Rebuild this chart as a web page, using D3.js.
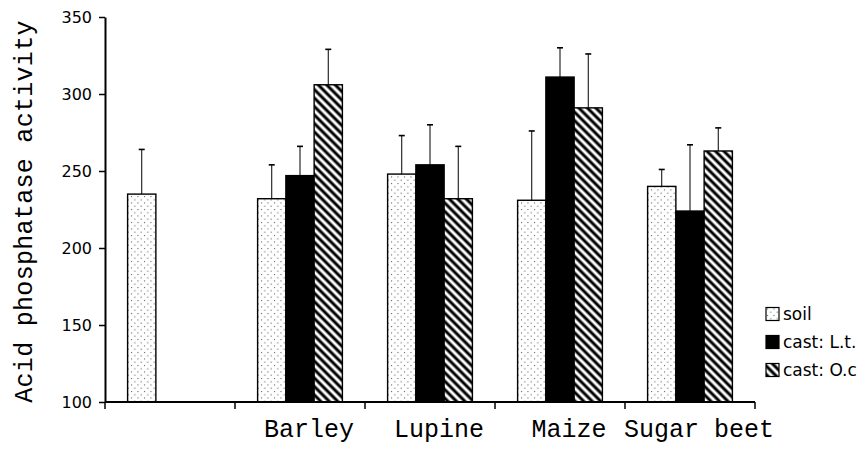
<!DOCTYPE html>
<html>
<head>
<meta charset="utf-8">
<script src="https://cdn.jsdelivr.net/npm/d3@7"></script>
<style>
  html, body { margin: 0; padding: 0; background: #fff; }
  svg { display: block; }
</style>
</head>
<body>
<svg id="chart" width="866" height="451"></svg>
<script>
// ---------------------------------------------------------------------------
// Data
// ---------------------------------------------------------------------------
const categories = ['', 'Barley', 'Lupine', 'Maize', 'Sugar beet'];
const seriesNames = ['soil', 'cast: L.t.', 'cast: O.c'];

const soil      = [235, 232, 248, 231, 240];
const soilSE    = [29, 22, 25, 45, 11];
const castLt    = [null, 247, 254, 311, 224];
const castLtSE  = [null, 19, 26, 19, 43];
const castOc    = [null, 306, 232, 291, 263];
const castOcSE  = [null, 23, 34, 35, 15];

const yTicks = [100, 150, 200, 250, 300, 350];

// ---------------------------------------------------------------------------
// Layout
// ---------------------------------------------------------------------------
const M = { left: 105, right: 755, top: 17, bottom: 402 };
const TYPEWRITER = '"Liberation Mono", "Courier New", monospace';

const svg = d3.select('#chart');
const defs = svg.append('defs');

// dotted fill for soil
const dots = defs.append('pattern')
  .attr('id', 'pat-soil')
  .attr('patternUnits', 'userSpaceOnUse')
  .attr('width', 6.5).attr('height', 6.5);
dots.append('rect').attr('width', 6.5).attr('height', 6.5).attr('fill', '#fff');
dots.append('circle').attr('cx', 1.5).attr('cy', 1.5).attr('r', 0.6).attr('fill', '#333');
dots.append('circle').attr('cx', 4.75).attr('cy', 4.75).attr('r', 0.6).attr('fill', '#333');

// diagonal hatch for O.c
const hatch = defs.append('pattern')
  .attr('id', 'pat-oc')
  .attr('patternUnits', 'userSpaceOnUse')
  .attr('width', 6).attr('height', 6)
  .attr('patternTransform', 'rotate(-45)');
hatch.append('rect').attr('width', 6).attr('height', 6).attr('fill', '#fff');
hatch.append('line')
  .attr('x1', 3).attr('y1', -1).attr('x2', 3).attr('y2', 7)
  .attr('stroke', '#000').attr('stroke-width', 3);

const FILLS = ['url(#pat-soil)', '#000', 'url(#pat-oc)'];

const x = d3.scaleBand()
  .domain(categories.map((c, i) => i))
  .range([M.left, M.right])
  .paddingInner(0).paddingOuter(0);

const xs = d3.scaleBand()
  .domain(d3.range(seriesNames.length))
  .range([0, x.bandwidth()])
  .paddingInner(0).paddingOuter(0.8);

const y = d3.scaleLinear().domain([100, 350]).range([M.bottom, M.top]);

// flatten into bar records
const values = [soil, castLt, castOc];
const errs   = [soilSE, castLtSE, castOcSE];
const bars = [];
categories.forEach((c, ci) => {
  values.forEach((arr, si) => {
    if (arr[ci] == null) return;
    bars.push({ ci, si, v: arr[ci], se: errs[si][ci] });
  });
});

// error bars (drawn first, bars sit on top)
const eb = svg.append('g').attr('stroke', '#000').attr('stroke-width', 1);
bars.forEach(d => {
  const cx = x(d.ci) + xs(d.si) + xs.bandwidth() / 2;
  eb.append('line')
    .attr('x1', cx).attr('x2', cx)
    .attr('y1', y(d.v)).attr('y2', y(d.v + d.se));
  eb.append('line')
    .attr('x1', cx - 3).attr('x2', cx + 3)
    .attr('y1', y(d.v + d.se)).attr('y2', y(d.v + d.se))
    .attr('stroke-width', 1.6);
});

// bars
svg.append('g')
  .selectAll('rect')
  .data(bars)
  .join('rect')
  .attr('x', d => x(d.ci) + xs(d.si))
  .attr('width', xs.bandwidth())
  .attr('y', d => y(d.v))
  .attr('height', d => y(100) - y(d.v))
  .attr('fill', d => FILLS[d.si])
  .attr('stroke', '#000')
  .attr('stroke-width', 1.4);

// y axis
const yAxis = svg.append('g')
  .attr('transform', `translate(${M.left},0)`)
  .call(d3.axisLeft(y).tickValues(yTicks).tickSize(6).tickSizeOuter(0).tickPadding(7));
yAxis.select('.domain').attr('stroke-width', 2);
yAxis.selectAll('.tick line').attr('stroke-width', 1.5);
yAxis.selectAll('text')
  .attr('font-family', '"DejaVu Sans", sans-serif')
  .attr('font-size', 16)
  .attr('fill', '#000');

// x axis: ticks at band boundaries
const bounds = categories.map((c, i) => x(i)).concat([M.right]);
const xAxis = svg.append('g');
xAxis.append('line')
  .attr('x1', M.left).attr('x2', M.right)
  .attr('y1', M.bottom).attr('y2', M.bottom)
  .attr('stroke', '#000').attr('stroke-width', 2);
xAxis.selectAll('line.tk')
  .data(bounds)
  .join('line')
  .attr('class', 'tk')
  .attr('x1', d => d).attr('x2', d => d)
  .attr('y1', M.bottom).attr('y2', M.bottom + 7)
  .attr('stroke', '#000').attr('stroke-width', 1.5);
xAxis.selectAll('text')
  .data(categories.filter(d => d))
  .join('text')
  .attr('x', d => x(categories.indexOf(d)) + x.bandwidth() / 2 + 9)
  .attr('y', 437)
  .attr('text-anchor', 'middle')
  .attr('font-family', TYPEWRITER)
  .attr('font-size', 25)
  .attr('fill', '#000')
  .text(d => d);

// y title
svg.append('text')
  .attr('transform', `translate(32,${(M.top + M.bottom) / 2 + 2}) rotate(-90)`)
  .attr('text-anchor', 'middle')
  .attr('font-family', TYPEWRITER)
  .attr('font-size', 25)
  .attr('letter-spacing', 0.3)
  .attr('fill', '#000')
  .text('Acid phosphatase activity');

// legend
const legend = svg.append('g').attr('transform', 'translate(766,314)');
seriesNames.forEach((name, i) => {
  const row = legend.append('g').attr('transform', `translate(0,${i * 28})`);
  row.append('rect')
    .attr('x', 0).attr('y', -6.5)
    .attr('width', 13).attr('height', 13)
    .attr('fill', FILLS[i])
    .attr('stroke', '#000').attr('stroke-width', 1.2);
  row.append('text')
    .attr('x', 17).attr('y', 0)
    .attr('dy', '0.35em')
    .attr('font-family', '"DejaVu Sans", sans-serif')
    .attr('font-size', 17)
    .attr('fill', '#000')
    .text(name);
});
</script>
</body>
</html>
